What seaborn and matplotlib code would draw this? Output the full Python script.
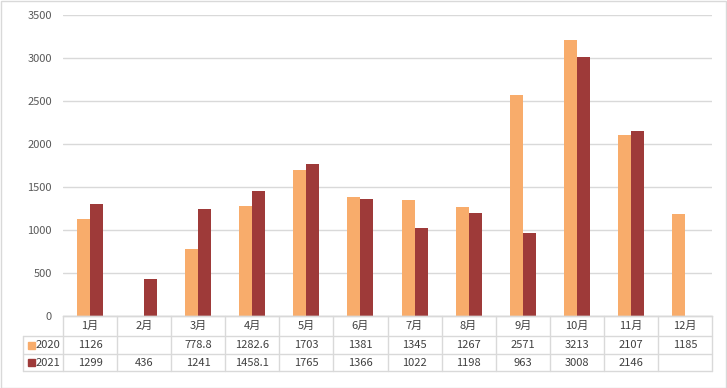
import numpy as np
import pandas as pd
import matplotlib
matplotlib.use("Agg")
import matplotlib.pyplot as plt
from matplotlib.patches import Rectangle
from matplotlib.lines import Line2D
import seaborn as sns

months = ["1月", "2月", "3月", "4月", "5月", "6月", "7月", "8月", "9月", "10月", "11月", "12月"]
series_names = ["2020", "2021"]
values_2020 = [1126, np.nan, 778.8, 1282.6, 1703, 1381, 1345, 1267, 2571, 3213, 2107, 1185]
values_2021 = [1299, 436, 1241, 1458.1, 1765, 1366, 1022, 1198, 963, 3008, 2146, np.nan]
colors = ["#F8AC6B", "#9E3A39"]
yticks = [0, 500, 1000, 1500, 2000, 2500, 3000, 3500]

sns.set_theme(style="white")
plt.rcParams["font.family"] = ["Noto Sans CJK SC", "DejaVu Sans"]

df = pd.DataFrame({
    "month": months * 2,
    "year": [series_names[0]] * 12 + [series_names[1]] * 12,
    "value": values_2020 + values_2021,
})

W, H = 727, 388
fig = plt.figure(figsize=(W / 100, H / 100), dpi=100)
x0, x1, y_top, y_bot = 63, 712, 15, 316
ax = fig.add_axes([x0 / W, 1 - y_bot / H, (x1 - x0) / W, (y_bot - y_top) / H])

sns.barplot(data=df, x="month", y="value", hue="year", palette=colors,
            width=0.48, gap=0, saturation=1, legend=False, ax=ax, errorbar=None,
            linewidth=0, edgecolor="none")

ax.set_ylim(0, 3500)
ax.set_xlim(-0.5, len(months) - 0.5)
ax.set_yticks(yticks)
ax.set_yticklabels([str(t) for t in yticks], color="#595959", fontsize=8)
ax.tick_params(axis="y", length=0, pad=8)
ax.set_xticks([])
ax.set_xlabel("")
ax.set_ylabel("")
ax.grid(axis="y", color="#D9D9D9", linewidth=1)
ax.set_axisbelow(True)
for s in ["top", "right", "left"]:
    ax.spines[s].set_visible(False)
ax.spines["bottom"].set_color("#D9D9D9")
ax.spines["bottom"].set_linewidth(1)

# Data table below the axes (figure pixel coordinates)
grid_c = "#D9D9D9"
txt_c = "#404040"
row_y = [316, 336, 354, 371]
leg_x = 23
col_w = (x1 - x0) / len(months)

def fx(px):
    return px / W

def fy(py):
    return 1 - py / H

def hline(xa, xb, y):
    fig.add_artist(Line2D([fx(xa), fx(xb)], [fy(y), fy(y)], color=grid_c, lw=1))

def vline(x, ya, yb):
    fig.add_artist(Line2D([fx(x), fx(x)], [fy(ya), fy(yb)], color=grid_c, lw=1))

hline(x0, x1, row_y[0])
hline(leg_x, x1, row_y[1])
hline(leg_x, x1, row_y[2])
hline(leg_x, x1, row_y[3])
vline(leg_x, row_y[1], row_y[3])
for i in range(len(months) + 1):
    vline(x0 + i * col_w, row_y[0], row_y[3])

def fmt(v):
    return "" if np.isnan(v) else f"{v:g}"

for i, m in enumerate(months):
    cx = x0 + (i + 0.5) * col_w
    fig.text(fx(cx), fy((row_y[0] + row_y[1]) / 2), m, ha="center", va="center",
             fontsize=8, color=txt_c)
    for r, vals in enumerate([values_2020, values_2021]):
        fig.text(fx(cx), fy((row_y[r + 1] + row_y[r + 2]) / 2), fmt(vals[i]),
                 ha="center", va="center", fontsize=8, color=txt_c)

for r, name in enumerate(series_names):
    cy = (row_y[r + 1] + row_y[r + 2]) / 2
    fig.add_artist(Rectangle((fx(28), fy(cy + 3.5)), 7 / W, 7 / H, color=colors[r],
                             transform=fig.transFigure))
    fig.text(fx(36), fy(cy), name, ha="left", va="center", fontsize=8, color=txt_c)

# outer border
fig.add_artist(Rectangle((0.5 / W, 0.5 / H), (W - 1.5) / W, (H - 1.5) / H,
                         fill=False, edgecolor="#D9D9D9", lw=1, transform=fig.transFigure))

fig.savefig("out.png", dpi=100)
